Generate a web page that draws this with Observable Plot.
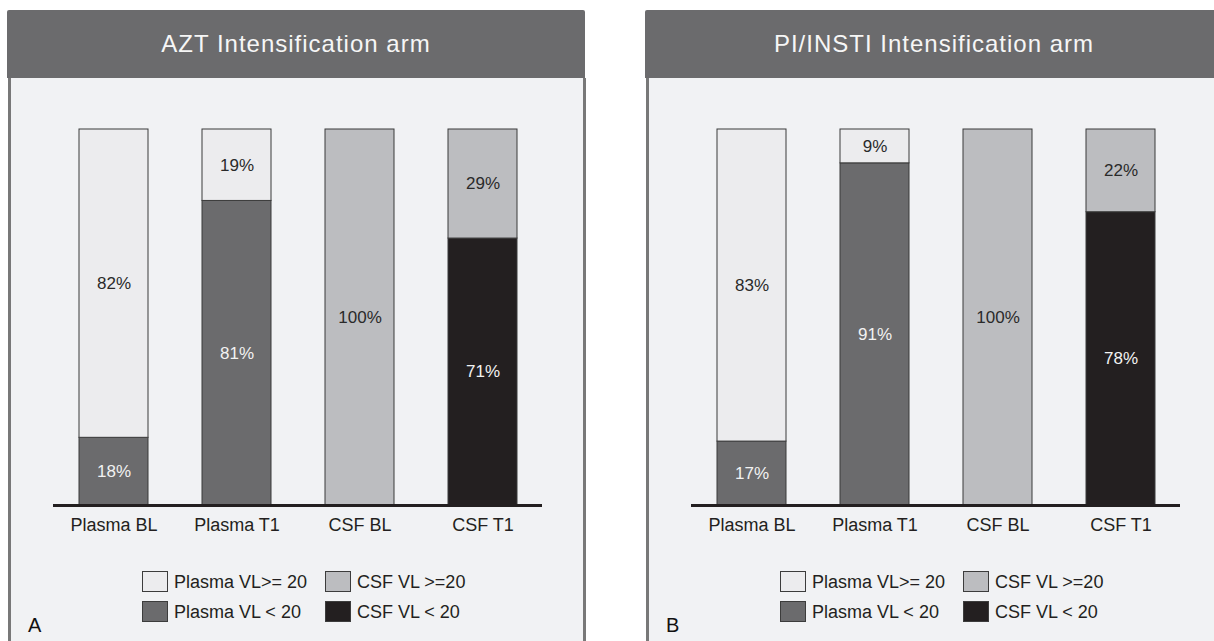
<!DOCTYPE html>
<html>
<head>
<meta charset="utf-8">
<script src="https://cdn.jsdelivr.net/npm/d3@7"></script>
<script src="https://cdn.jsdelivr.net/npm/@observablehq/plot@0.6"></script>
<style>
  html, body { margin: 0; padding: 0; background: #ffffff; }
  body { width: 1214px; height: 641px; overflow: hidden; position: relative;
         font-family: "Liberation Sans", Arial, Helvetica, sans-serif; }
  .panel { position: absolute; top: 10px; width: 578px; height: 640px; }
  .header { position: absolute; left: -1px; top: 0; width: 578px; height: 68px; background: #6b6b6d;
            border-radius: 2px 2px 0 0; color: #f6f6f6; font-size: 24px; letter-spacing: 1px;
            line-height: 68px; text-align: center; }
  .body { position: absolute; left: 0; top: 68px; width: 572px; height: 572px; background: #f1f2f4;
          border-left: 3px solid #787878; border-right: 3px solid #787878; }
  .body svg { position: absolute; left: 0; top: 0; }
  .legend { position: absolute; left: 131px; top: 493px; display: grid;
            grid-template-columns: 26px 157px 26px auto; grid-auto-rows: 21px; row-gap: 9px;
            font-size: 18px; color: #231f20; }
  .sw { box-sizing: border-box; width: 26px; height: 21px; border: 1.5px solid #3c3c3c; }
  .lt { padding-left: 6px; line-height: 23px; white-space: nowrap; }
  .tag { position: absolute; left: 17px; top: 537px; font-size: 20px; line-height: 20px; color: #111; }
</style>
</head>
<body>
<script>
// ---- data ----
const categories = ["Plasma BL", "Plasma T1", "CSF BL", "CSF T1"];
const seriesNames = ["Plasma VL>= 20", "CSF VL >=20", "Plasma VL < 20", "CSF VL < 20"];
const seriesColors = ["#ececee", "#bcbdc0", "#6b6b6d", "#231f20"];
const armTitles = ["AZT Intensification arm", "PI/INSTI Intensification arm"];
const armTags = ["A", "B"];
// percentage with VL < 20 (bottom segment) and >= 20 (top segment)
const aztBelow = [18, 81, 0, 71];
const aztAbove = [82, 19, 100, 29];
const piBelow = [17, 91, 0, 78];
const piAbove = [83, 9, 100, 22];

const darkSeries = new Set(["Plasma VL < 20", "CSF VL < 20"]);

function buildRows(below, above) {
  const rows = [];
  categories.forEach((cat, i) => {
    const isPlasma = i < 2;
    const sBelow = isPlasma ? "Plasma VL < 20" : "CSF VL < 20";
    const sAbove = isPlasma ? "Plasma VL>= 20" : "CSF VL >=20";
    let acc = 0;
    [[sBelow, below[i]], [sAbove, above[i]]].forEach(([s, v]) => {
      rows.push({cat, series: s, value: v, y1: acc, y2: acc + v, mid: acc + v / 2});
      acc += v;
    });
  });
  return rows.filter(d => d.value > 0);
}

function chart(rows) {
  return Plot.plot({
    width: 572, height: 470,
    marginTop: 51, marginBottom: 43, marginLeft: 42, marginRight: 41,
    style: {background: "transparent", fontFamily: "'Liberation Sans', Arial, Helvetica, sans-serif", overflow: "visible"},
    x: {domain: categories, paddingInner: 0.44, paddingOuter: 0.2, axis: null},
    y: {domain: [0, 100], axis: null},
    color: {domain: seriesNames, range: seriesColors},
    marks: [
      Plot.barY(rows, {x: "cat", y1: "y1", y2: "y2", fill: "series", stroke: "#3a3a3a", strokeWidth: 1}),
      Plot.text(rows.filter(d => !darkSeries.has(d.series)), {x: "cat", y: "mid", text: d => d.value + "%", fill: "#2a2a2a", fontSize: 17}),
      Plot.text(rows.filter(d => darkSeries.has(d.series)), {x: "cat", y: "mid", text: d => d.value + "%", fill: "#f2f2f2", fontSize: 17}),
      Plot.ruleY([0], {stroke: "#231f20", strokeWidth: 3}),
      Plot.axisX({tickSize: 0, tickPadding: 13, fontSize: 18, fill: "#231f20", label: null})
    ]
  });
}

const legendOrder = [0, 1, 2, 3];
const panels = [[aztBelow, aztAbove], [piBelow, piAbove]];
const lefts = [8, 646];

panels.forEach(([below, above], k) => {
  const panel = d3.select("body").append("div").attr("class", "panel").style("left", lefts[k] + "px");
  panel.append("div").attr("class", "header").text(armTitles[k]);
  const body = panel.append("div").attr("class", "body");
  body.node().appendChild(chart(buildRows(below, above)));
  const legend = body.append("div").attr("class", "legend");
  legendOrder.forEach(i => {
    legend.append("div").attr("class", "sw").style("background", seriesColors[i]);
    legend.append("div").attr("class", "lt").text(seriesNames[i]);
  });
  body.append("div").attr("class", "tag").text(armTags[k]);
});
</script>
</body>
</html>
